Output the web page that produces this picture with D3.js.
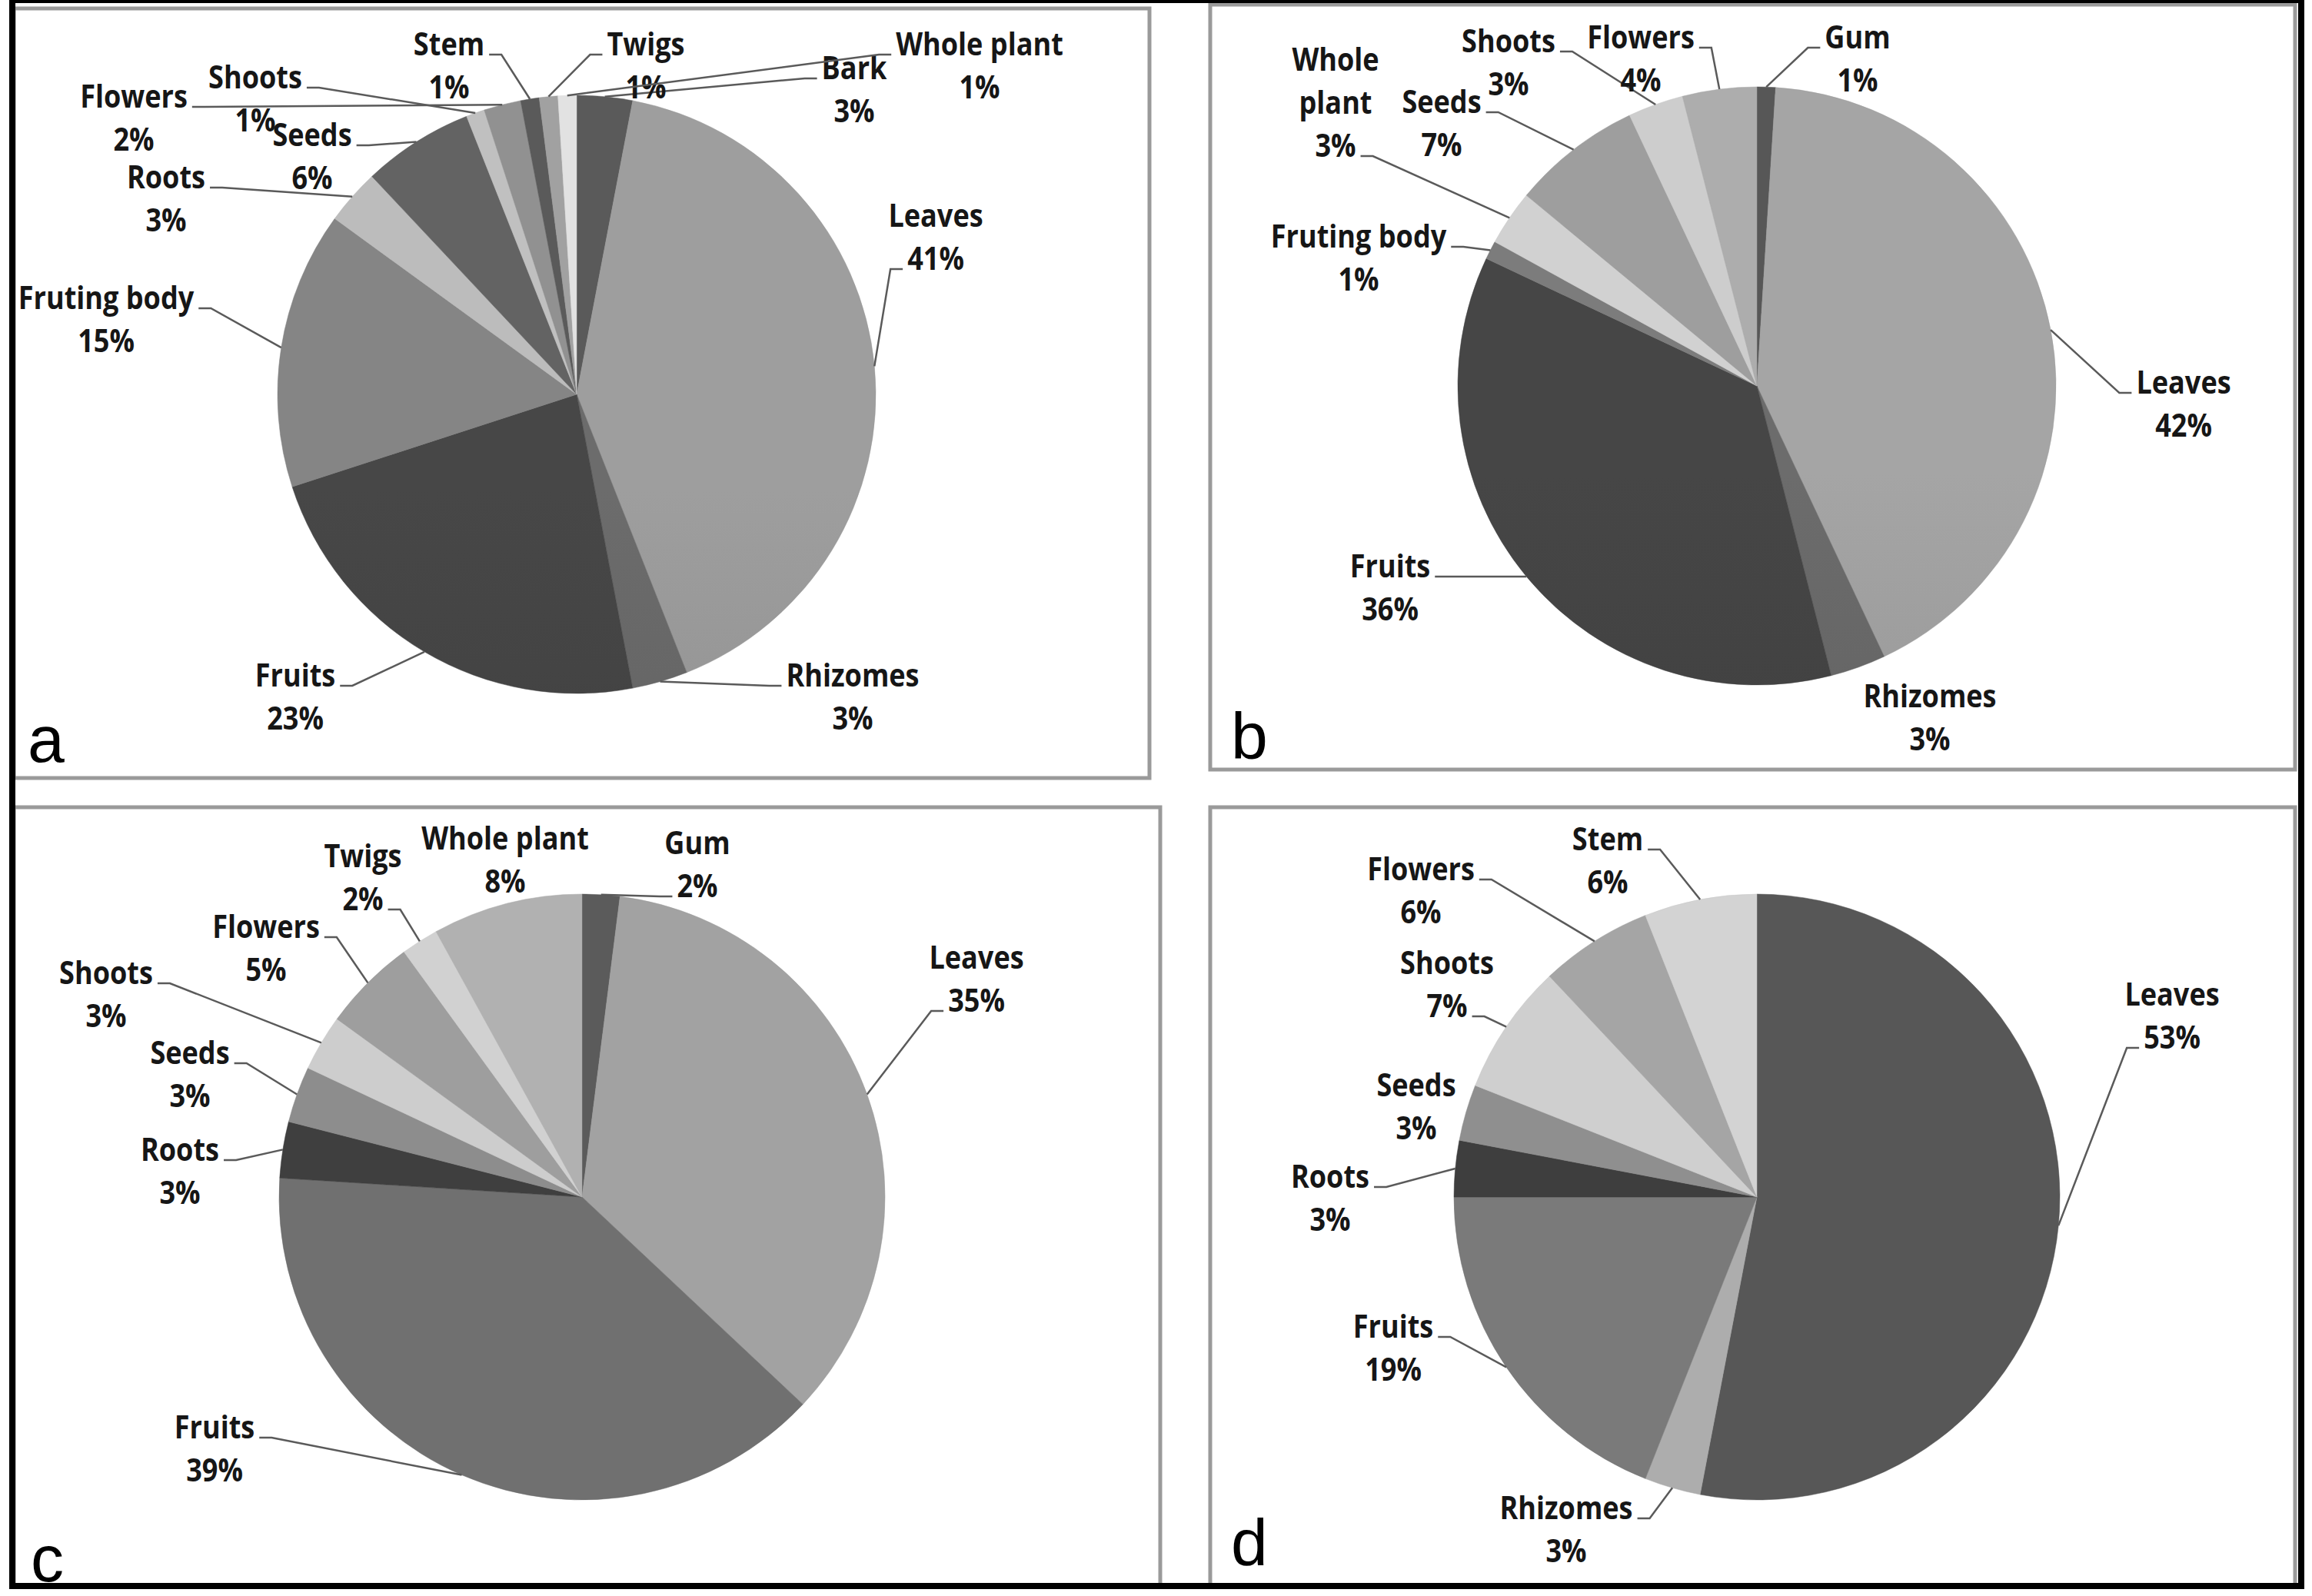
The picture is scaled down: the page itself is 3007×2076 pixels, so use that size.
<!DOCTYPE html>
<html>
<head>
<meta charset="utf-8">
<script src="https://cdn.jsdelivr.net/npm/d3@7"></script>
<style>
  html, body { margin: 0; padding: 0; background: #fff; }
  svg { display: block; }
</style>
</head>
<body>
<svg id="chart" width="3007" height="2076"></svg>
<script>
// plant parts and their share (%) in each of the four pies
const partsA = ['Bark', 'Leaves', 'Rhizomes', 'Fruits', 'Fruting body', 'Roots', 'Seeds', 'Shoots', 'Flowers', 'Stem', 'Twigs', 'Whole plant'];
const valuesA = [3, 41, 3, 23, 15, 3, 6, 1, 2, 1, 1, 1];

const partsB = ['Gum', 'Leaves', 'Rhizomes', 'Fruits', 'Fruting body', 'Whole plant', 'Seeds', 'Shoots', 'Flowers'];
const valuesB = [1, 42, 3, 36, 1, 3, 7, 3, 4];

const partsC = ['Gum', 'Leaves', 'Fruits', 'Roots', 'Seeds', 'Shoots', 'Flowers', 'Twigs', 'Whole plant'];
const valuesC = [2, 35, 39, 3, 3, 3, 5, 2, 8];

const partsD = ['Leaves', 'Rhizomes', 'Fruits', 'Roots', 'Seeds', 'Shoots', 'Flowers', 'Stem'];
const valuesD = [53, 3, 19, 3, 3, 7, 6, 6];

// layout: pie centre/radius, frame box, slice greys, label offsets [dx, dy, leader row]
const panels = [
  {
    letter: 'a', parts: partsA, values: valuesA,
    cx: 750, cy: 513, r: 389, box: [18, 11, 1495, 1012], letterAt: [36, 991],
    shades: ['#555555', '#969696', '#666666', '#434343', '#7e7e7e', '#b2b2b2', '#5e5e5e', '#b6b6b6', '#898989', '#555555', '#999999', '#d6d6d6'],
    labels: [[361, -424, 0], [467, -232, 1], [359, 366, 0], [-366, 366, 0], [-612, -125, 0], [-534, -282, 0],
             [-344, -337, 0], [-418, -412, 0], [-576, -387, 0], [-166, -455, 0], [90, -455, 0], [524, -455, 0]]
  },
  {
    letter: 'b', parts: partsB, values: valuesB,
    cx: 2285, cy: 502, r: 389, box: [1574, 6, 2985, 1001], letterAt: [1601, 987],
    shades: ['#525252', '#9c9c9c', '#666666', '#424242', '#767676', '#c6c6c6', '#969696', '#c2c2c2', '#a4a4a4'],
    labels: [[131, -453, 0], [555, -4, 0], [225, 404, null], [-477, 235, 0], [-518, -194, 0], [-548, -424, 2, true],
             [-410, -369, 0], [-323, -448, 0], [-151, -453, 0]]
  },
  {
    letter: 'c', parts: partsC, values: valuesC,
    cx: 757, cy: 1557, r: 394, box: [18, 1050, 1509, 2062], letterAt: [40, 2057],
    shades: ['#565656', '#9a9a9a', '#6a6a6a', '#3c3c3c', '#868686', '#c2c2c2', '#969696', '#c6c6c6', '#a8a8a8'],
    labels: [[150, -460, 1], [513, -311, 1], [-478, 300, 0], [-523, -61, 0], [-510, -187, 0], [-619, -291, 0],
             [-411, -351, 0], [-285, -443, 1], [-100, -466, null]]
  },
  {
    letter: 'd', parts: partsD, values: valuesD,
    cx: 2285, cy: 1557, r: 394, box: [1574, 1050, 2985, 2062], letterAt: [1601, 2036],
    shades: ['#525252', '#a4a4a4', '#747474', '#3b3b3b', '#888888', '#c4c4c4', '#9c9c9c', '#c8c8c8'],
    labels: [[540, -263, 1], [-248, 405, 0], [-473, 169, 0], [-555, -26, 0], [-443, -145, null], [-403, -304, 1],
             [-437, -426, 0], [-194, -465, 0]]
  }
];

const labelFont = "'Open Sans', 'Noto Sans', sans-serif";
const squeeze = 0.88;   // narrow the label glyphs toward the original condensed face
const lineH = 56;

const svg = d3.select('#chart');
const defs = svg.append('defs');

svg.append('rect').attr('width', 3007).attr('height', 2076).attr('fill', '#fff');

const pie = d3.pie().sort(null).value(d => d.value);

panels.forEach(p => {
  const [x0, y0, x1, y1] = p.box;
  svg.append('rect')
    .attr('x', x0).attr('y', y0)
    .attr('width', x1 - x0).attr('height', y1 - y0)
    .attr('fill', 'none')
    .attr('stroke', '#9a9a9a')
    .attr('stroke-width', 5);

  const data = p.parts.map((name, i) => ({ name, value: p.values[i], i }));
  const arcs = pie(data);
  const arc = d3.arc().innerRadius(0).outerRadius(p.r);

  // vertical grey gradient per slice, lighter at the top of the pie
  arcs.forEach(a => {
    const base = d3.color(p.shades[a.data.i]);
    const g = defs.append('linearGradient')
      .attr('id', `g${p.letter}${a.data.i}`)
      .attr('gradientUnits', 'userSpaceOnUse')
      .attr('x1', 0).attr('x2', 0)
      .attr('y1', p.cy - p.r).attr('y2', p.cy + p.r);
    g.append('stop').attr('offset', '0%').attr('stop-color', base.brighter(0.15).formatHex());
    g.append('stop').attr('offset', '100%').attr('stop-color', base.darker(0.28).formatHex());
  });

  const gp = svg.append('g').attr('transform', `translate(${p.cx},${p.cy})`);
  gp.selectAll('path')
    .data(arcs)
    .join('path')
    .attr('d', arc)
    .attr('fill', d => `url(#g${p.letter}${d.data.i})`)
    .attr('stroke', d => p.shades[d.data.i])
    .attr('stroke-width', 0.5);

  // labels + leader lines
  const gl = svg.append('g');
  arcs.forEach(a => {
    const [dx, dy, row, wrap] = p.labels[a.data.i];
    const lx = p.cx + dx, ly = p.cy + dy;
    const rows = (wrap ? a.data.name.split(' ') : [a.data.name]).concat([`${a.data.value}%`]);
    const widths = rows.map((t, k) => {
      const node = gl.append('text')
        .attr('transform', `translate(${lx},${ly + k * lineH}) scale(${squeeze},1)`)
        .attr('dy', '0.35em')
        .attr('text-anchor', 'middle')
        .attr('font-family', labelFont)
        .attr('font-weight', 'bold')
        .attr('font-size', 41)
        .attr('fill', '#161616')
        .text(t)
        .node();
      return node.getComputedTextLength() * squeeze;
    });

    if (row === null || row === undefined) return;
    const mid = (a.startAngle + a.endAngle) / 2;
    const ex = p.cx + p.r * Math.sin(mid);
    const ey = p.cy - p.r * Math.cos(mid);
    const side = ex > lx ? 1 : -1;
    const sx = lx + side * (widths[row] / 2 + 6);
    const sy = ly + row * lineH + 13;
    gl.append('path')
      .attr('d', `M${sx},${sy}H${sx + side * 16}L${ex},${ey}`)
      .attr('fill', 'none')
      .attr('stroke', '#5a5a5a')
      .attr('stroke-width', 2.5);
  });

  svg.append('text')
    .attr('x', p.letterAt[0]).attr('y', p.letterAt[1])
    .attr('font-family', "'Liberation Sans', Arial, sans-serif")
    .attr('font-size', 86)
    .attr('fill', '#000')
    .text(p.letter);
});

// outer black frame
svg.append('rect')
  .attr('x', 16).attr('y', 0)
  .attr('width', 2977).attr('height', 2063)
  .attr('fill', 'none')
  .attr('stroke', '#000')
  .attr('stroke-width', 8);
</script>
</body>
</html>
